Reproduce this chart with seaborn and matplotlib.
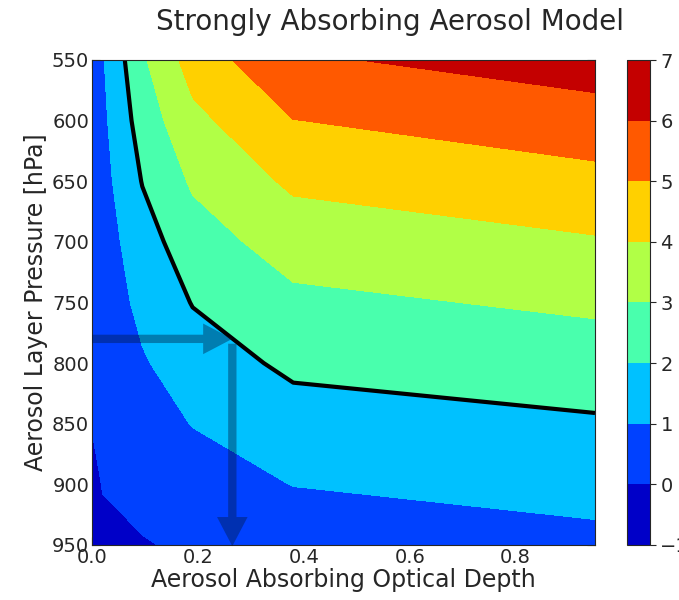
import numpy as np
import matplotlib
matplotlib.use("Agg")
import matplotlib.pyplot as plt
import seaborn as sns

# Style
sns.set_style("ticks", {"xtick.direction": "in", "ytick.direction": "in"})
plt.rcParams["font.family"] = ["DejaVu Sans"]

# Data: grid
aaod = [0.0, 0.02, 0.095, 0.19, 0.38, 0.95]
pressure = [550, 600, 650, 700, 750, 800, 850, 900, 950]

# one column of index values per AAOD grid value (top to bottom in pressure)
col_000 = [0.70, 0.60, 0.50, 0.40, 0.30, 0.15, 0.02, -0.15, -0.35]
col_002 = [0.92, 0.79, 0.66, 0.53, 0.40, 0.28, 0.15, 0.02, -0.11]
col_0095 = [2.85, 2.45, 2.04, 1.58, 1.26, 0.90, 0.57, 0.25, -0.05]
col_019 = [4.44, 3.73, 3.13, 2.56, 2.04, 1.54, 1.03, 0.55, 0.12]
col_038 = [5.86, 4.98, 4.18, 3.44, 2.78, 2.19, 1.60, 1.02, 0.45]
col_095 = [6.49, 5.58, 4.71, 3.91, 3.18, 2.51, 1.89, 1.33, 0.76]

levels = [-1, 0, 1, 2, 3, 4, 5, 6, 7]
threshold = [2]

# retrieval example (arrows)
example_aaod = 0.265
example_pressure = 780

values = np.column_stack([col_000, col_002, col_0095, col_019, col_038, col_095])
X, P = np.meshgrid(aaod, pressure)

fig = plt.figure(figsize=(6.79, 6.0), dpi=100)
ax = fig.add_axes([0.1355, 0.0917, 0.7408, 0.8083])

cf = ax.contourf(X, P, values, levels=levels, cmap="jet")
ax.contour(X, P, values, levels=threshold, colors="k", linewidths=3)

arrow_kw = dict(arrowstyle="simple,head_width=22,head_length=21,tail_width=6",
                mutation_scale=1, color="#00173e", alpha=0.4,
                shrinkA=0, shrinkB=0, lw=0)
ax.annotate("", xy=(example_aaod, example_pressure), xytext=(0.0, example_pressure),
            arrowprops=arrow_kw, annotation_clip=False)
ax.annotate("", xy=(example_aaod, 951), xytext=(example_aaod, example_pressure + 4),
            arrowprops=arrow_kw, annotation_clip=False)

ax.set_xlim(0, 0.95)
ax.set_ylim(950, 550)
ax.set_xticks([0.0, 0.2, 0.4, 0.6, 0.8])
ax.set_xticklabels(["0.0", "0.2", "0.4", "0.6", "0.8"])
ax.set_yticks([550, 600, 650, 700, 750, 800, 850, 900, 950])
ax.tick_params(top=True, right=True, labelsize=14, length=6, width=0.8, pad=2)
ax.set_xlabel("Aerosol Absorbing Optical Depth", fontsize=17, labelpad=1)
ax.set_ylabel("Aerosol Layer Pressure [hPa]", fontsize=17, labelpad=3)
for s in ax.spines.values():
    s.set_linewidth(0.8)

cax = fig.add_axes([0.9234, 0.0917, 0.0339, 0.8083])
cb = fig.colorbar(cf, cax=cax, ticks=levels)
cb.ax.tick_params(labelsize=14, length=4, direction="out")
cb.outline.set_linewidth(0.8)

fig.text(0.575, 0.963, "Strongly Absorbing Aerosol Model", fontsize=20,
         ha="center", va="center")

fig.savefig("out.png", dpi=100)
